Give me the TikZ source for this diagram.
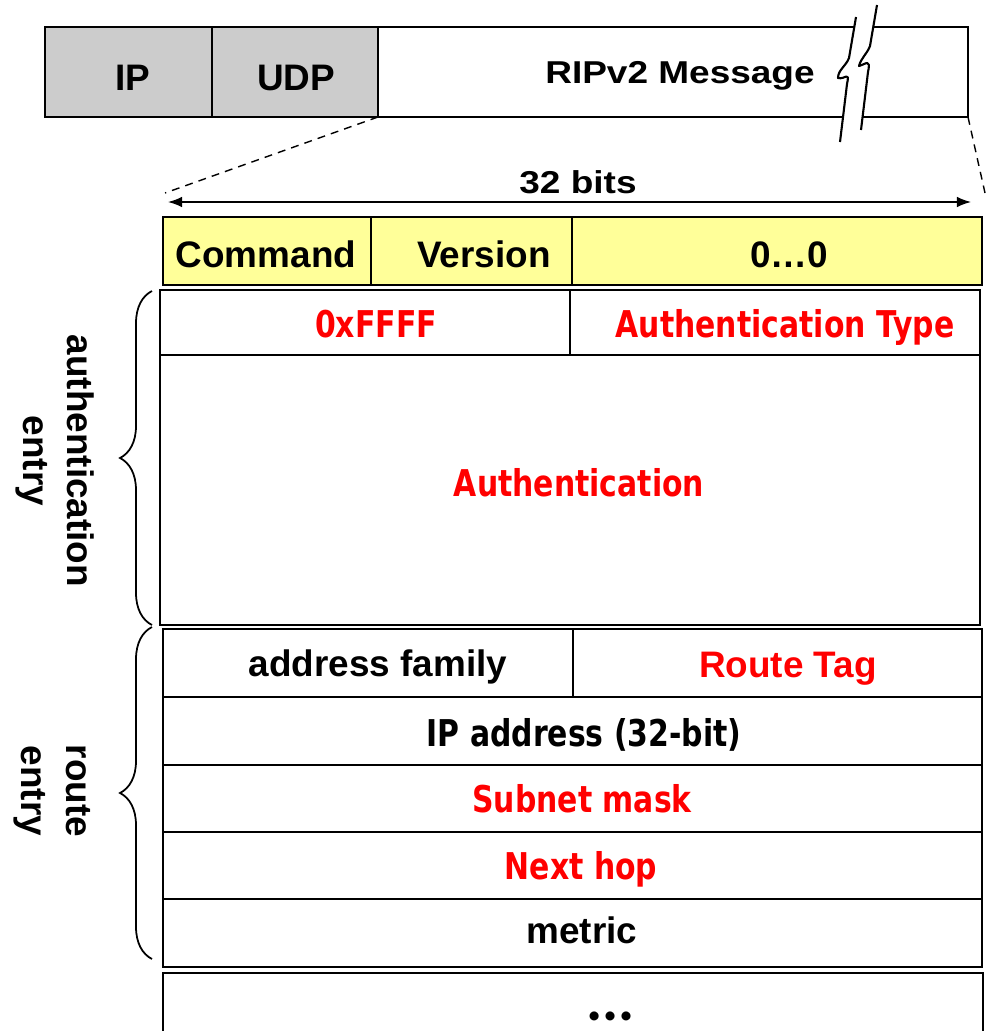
\documentclass[tikz,border=0pt]{standalone}
\usepackage{fontspec}
\usepackage{graphicx}
\setmainfont{Liberation Sans}
\newfontfamily\tahoma{DejaVu Sans}[FakeStretch=0.81]
\newfontfamily\latofont{Lato}
\usetikzlibrary{arrows.meta,decorations.pathreplacing}
\definecolor{hdrgray}{RGB}{204,204,204}
\definecolor{hdryellow}{RGB}{255,255,153}
\definecolor{fieldred}{RGB}{255,0,0}
\tikzset{
  arialtxt/.style={font=\fontsize{21}{25}\selectfont\bfseries, anchor=base, inner sep=0pt},
  widetxt/.style={font=\fontsize{18}{22}\selectfont\bfseries, anchor=base, inner sep=0pt},
  tahomatxt/.style={font=\fontsize{21}{25}\selectfont\tahoma\bfseries, anchor=base, inner sep=0pt},
  sidetxt/.style={font=\fontsize{21}{25.5}\selectfont\bfseries, align=center, rotate=-90},
  box/.style={line width=1.6pt},
  bar/.style={line width=1.2pt},
  zoomline/.style={line width=0.8pt, dash pattern=on 4.5pt off 3.5pt},
  bitsarrow/.style={line width=0.8pt, {Latex[length=8pt,width=6pt]}-{Latex[length=8pt,width=6pt]}},
  entrybrace/.style={line width=1pt, decorate, decoration={brace, amplitude=0.64cm, aspect=0.5}},
}
\begin{document}
\begin{tikzpicture}[x=0.02cm,y=-0.02cm]
\useasboundingbox (0,0) rectangle (993,1031);
\clip (0,0) rectangle (993,1031);

% encapsulation bar
\filldraw[fill=hdrgray, bar] (45,27) rectangle (212,117);
\filldraw[fill=hdrgray, bar] (212,27) rectangle (378,117);
\draw[bar] (378,27) rectangle (968,117);

% break mark
\fill[white] (856,17) -- (849,58) .. controls (846,66) and (838,70) .. (838,78) .. controls (845,80) and (850,70) .. (847,84) -- (840,142)
  -- (861,130) -- (868,72) .. controls (871,58) and (866,64) .. (859,66) .. controls (861,58) and (867,54) .. (870,46) -- (877,5) -- cycle;
\draw[bar, line join=round] (856,17) -- (849,58) .. controls (846,66) and (838,70) .. (838,78) .. controls (845,80) and (850,70) .. (847,84) -- (840,142);
\draw[bar, line join=round] (877,5) -- (870,46) .. controls (867,54) and (861,58) .. (859,66) .. controls (866,64) and (871,58) .. (868,72) -- (861,130);

\node[arialtxt] (ip) at (133,90) {IP};
\node[arialtxt] (udp) at (296,90) {UDP};
\node[widetxt] (rip) at (680,83) {\scalebox{1.17}[1]{RIPv2 Message}};

% zoom lines
\coordinate (v1) at (378,117);
\coordinate (v2) at (165,193);
\draw[zoomline] (v1) -- (v2);
\coordinate (v3) at (968,117);
\coordinate (v4) at (985,193);
\draw[zoomline] (v3) -- (v4);

% width arrow
\coordinate (v5) at (168,202);
\coordinate (v6) at (971,202);
\draw[bitsarrow] (v5) -- (v6);
\node[widetxt] (bits) at (578,193) {\scalebox{1.17}[1]{32 bits}};

% header
\filldraw[fill=hdryellow, box] (163,217) rectangle (982,285);
\draw[box] (371,217) -- (371,285);
\draw[box] (572,217) -- (572,285);
\node[arialtxt] (cmd) at (266,267) {Command};
\node[arialtxt] (ver) at (484,267) {Version};
\node[arialtxt] (zero) at (789,267) {0…0};

% authentication entry
\draw[box] (160,290) rectangle (980,625);
\draw[box] (160,355) -- (980,355);
\draw[box] (570,290) -- (570,355);
\node[tahomatxt, fieldred] (ffff) at (376,337) {0xFFFF};
\node[tahomatxt, fieldred] (atype) at (785,337) {Authentication Type};
\node[tahomatxt, fieldred] (auth) at (579,496) {Authentication};

% route entry
\draw[box] (163,629) rectangle (982,967);
\draw[box] (163,697) -- (982,697);
\draw[box] (163,765) -- (982,765);
\draw[box] (163,832) -- (982,832);
\draw[box] (163,899) -- (982,899);
\draw[box] (573,629) -- (573,697);
\node[arialtxt] (afam) at (378,676) {address family};
\node[arialtxt, fieldred] (rtag) at (788,677) {Route Tag};
\node[tahomatxt] (ipaddr) at (584,746) {IP address (32-bit)};
\node[tahomatxt, fieldred] (mask) at (582,812) {Subnet mask};
\node[tahomatxt, fieldred] (hop) at (581,879) {Next hop};
\node[arialtxt] (metric) at (582,943) {metric};

% further entries
\draw[box] (163,973) rectangle (983,1060);
\node[arialtxt, font=\fontsize{34}{38}\selectfont\latofont\bfseries] (more) at (611,1020) {…};

% braces
\draw[entrybrace] (152,625) -- (152,291);
\draw[entrybrace] (152,959) -- (152,627);
\node[sidetxt] (authlbl) at (55,461) {authentication\\entry};
\node[sidetxt] (routelbl) at (52,791) {route\\entry};
\end{tikzpicture}
\end{document}
